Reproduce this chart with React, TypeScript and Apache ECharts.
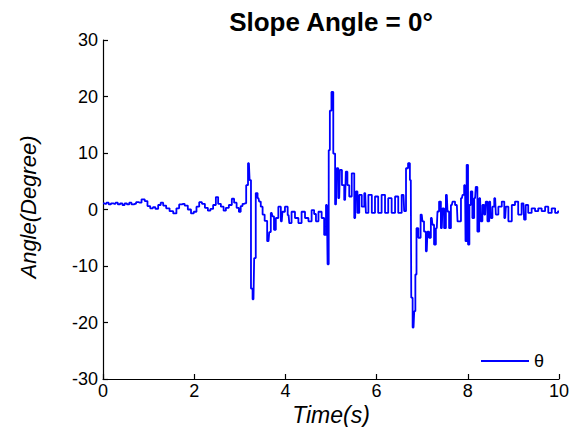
import React, { useEffect, useRef } from "react";
import * as echarts from "echarts";

const titleText = "Slope Angle = 0°";
const seriesName = "θ";
const xTicks = [0, 2, 4, 6, 8, 10];
const yTicks = [-30, -20, -10, 0, 10, 20, 30];

const time = [
  0, 0.05, 0.1, 0.15, 0.2, 0.25, 0.3, 0.35, 0.4, 0.45, 0.5, 0.55, 0.6, 0.65, 0.7, 0.75, 0.81, 0.88, 0.95,
  1.0, 1.07, 1.12, 1.18, 1.24, 1.29, 1.35, 1.42, 1.5, 1.58, 1.64, 1.7, 1.76, 1.82, 1.9, 1.96, 2.02, 2.08,
  2.14, 2.2, 2.27, 2.33, 2.38, 2.45, 2.5, 2.55, 2.62, 2.67, 2.72, 2.8, 2.85, 2.9, 2.96, 3.0, 3.04, 3.08,
  3.12, 3.16, 3.2, 3.23, 3.26, 3.3, 3.33, 3.37, 3.41, 3.44, 3.48, 3.52, 3.57, 3.63, 3.66, 3.7, 3.73, 3.77,
  3.81, 3.88, 3.92, 3.95, 4.03, 4.07, 4.1, 4.17, 4.25, 4.32, 4.39, 4.47, 4.54, 4.61, 4.65, 4.69, 4.76,
  4.83, 4.87, 4.91, 4.94, 4.96, 4.99, 5.03, 5.07, 5.11, 5.14, 5.18, 5.21, 5.27, 5.31, 5.34, 5.38, 5.42,
  5.49, 5.53, 5.56, 5.6, 5.64, 5.71, 5.75, 5.78, 5.86, 5.93, 6.0, 6.07, 6.15, 6.22, 6.29, 6.37, 6.44,
  6.51, 6.59, 6.62, 6.67, 6.71, 6.75, 6.77, 6.81, 6.84, 6.86, 6.89, 6.94, 6.99, 7.02, 7.06, 7.1, 7.13,
  7.17, 7.21, 7.24, 7.28, 7.32, 7.35, 7.39, 7.43, 7.46, 7.5, 7.54, 7.57, 7.61, 7.65, 7.68, 7.76, 7.79,
  7.83, 7.87, 7.9, 7.94, 7.96, 7.99, 8.02, 8.05, 8.08, 8.12, 8.16, 8.19, 8.23, 8.27, 8.3, 8.34, 8.38,
  8.41, 8.45, 8.49, 8.52, 8.56, 8.6, 8.63, 8.71, 8.78, 8.82, 8.85, 8.93, 9.0, 9.07, 9.14, 9.22, 9.25,
  9.29, 9.36, 9.44, 9.51, 9.58, 9.66, 9.73, 9.8, 9.88, 9.95, 10.0,
];

const theta = [
  1.1, 1.0, 1.2, 0.9, 1.1, 1.0, 1.2, 0.9, 1.1, 0.8, 1.1, 0.9, 1.2, 0.9, 1.0, 1.3, 1.2, 1.8, 1.5,
  0.6, 0.2, 0.4, 0.1, 0.8, 1.2, 0.7, 0.2, -0.3, -0.7, 0.2, 0.9, 1.0, 0.7, 0.0, -0.7, -0.4, 0.5,
  1.3, 1.0, 0.3, -0.2, 0.1, 0.8, 2.2, 1.0, 0.5, -0.2, 0.3, 0.8, 1.9, 1.2, 0.3, -0.4, 0.6, 1.0,
  1.1, 4.3, 8.2, 5.2, -14.0, -15.9, -8.6, 2.9, 2.0, 1.4, 0.5, -0.9, -2.0, -5.6, -4.0, -0.6, -1.2, -3.6,
  -1.5, 0.5, -2.1, -0.4, 0.5, -1.0, -2.4, -0.4, -1.5, -2.4, -0.4, -1.5, -2.1, -0.1, -0.8, -2.1, -0.4,
  -1.5, -4.5, 0.8, -9.7, 10.5, 17.5, 20.8, 9.9, 0.9, 7.3, 2.0, 7.0, 4.3, 1.7, 6.7, 4.3, 2.3,
  6.4, -1.5, 3.2, -0.6, 2.6, 0.5, 2.9, -0.6, 2.6, -0.6, 2.3, -0.6, 2.6, -0.6, 2.0, -0.6, 2.3,
  -0.6, 2.6, -0.3, 7.3, 8.2, 5.2, -15.6, -20.9, -18.0, -11.5, -3.3, -5.0, -0.9, -2.1, -3.9, -7.4, -3.9,
  -5.0, -1.5, -2.7, -6.2, -3.3, -0.35, 1.4, -3.3, 0.2, -3.3, 2.6, -0.35, -3.3, 0.8, 1.4, 0.8, -2.1,
  -2.1, 2.0, 2.6, 4.3, -5.6, 7.9, -6.2, 0.8, 3.2, -1.5, 2.0, 4.0, -3.9, 2.0, -2.1, 0.8, -0.9,
  1.4, -2.1, 1.4, -1.5, 0.5, 2.0, -0.9, 0.5, 1.4, -1.5, 0.5, -2.1, 0.8, 1.4, -0.9, 1.1, -1.8,
  0.8, -0.6, 0.2, -0.3, 0.2, -0.3, 0.5, -0.6, 0.2, -0.6, -0.35,
];

const FONT = "Liberation Sans";

export default function App() {
  const ref = useRef<HTMLDivElement>(null);
  useEffect(() => {
    document.body.style.margin = "0";
    const chart = echarts.init(ref.current!, null, { renderer: "svg" });
    const gridLeft = 103;
    const gridTop = 40;
    const gridRight = 22;
    const gridBottom = 48;
    const plotCx = gridLeft + (581 - gridLeft - gridRight) / 2;
    chart.setOption({
      animation: false,
      backgroundColor: "#ffffff",
      grid: { left: gridLeft, right: gridRight, top: gridTop, bottom: gridBottom, containLabel: false },
      xAxis: {
        type: "value",
        min: xTicks[0],
        max: xTicks[xTicks.length - 1],
        interval: 2,
        axisLine: { show: true, onZero: false, lineStyle: { color: "#000", width: 1.2 } },
        axisTick: { show: true, inside: true, length: 5, lineStyle: { color: "#000", width: 1.2 } },
        axisLabel: { color: "#000", fontFamily: FONT, fontSize: 18, margin: 4, lineHeight: 16 },
        splitLine: { show: false },
      },
      yAxis: {
        type: "value",
        min: yTicks[0],
        max: yTicks[yTicks.length - 1],
        interval: 10,
        axisLine: { show: true, onZero: false, lineStyle: { color: "#000", width: 1.2 } },
        axisTick: { show: true, inside: true, length: 5, lineStyle: { color: "#000", width: 1.2 } },
        axisLabel: { color: "#000", fontFamily: FONT, fontSize: 18, margin: 5 },
        splitLine: { show: false },
      },
      legend: {
        data: [seriesName],
        left: 476,
        top: 347,
        icon: "rect",
        itemWidth: 48,
        itemHeight: 2,
        itemGap: 4,
        textStyle: { color: "#000", fontFamily: FONT, fontSize: 18, padding: [0, 0, 0, 0] },
      },
      graphic: [
        {
          type: "text",
          x: plotCx,
          y: 22,
          style: {
            text: titleText,
            fill: "#000",
            font: `bold 26px "${FONT}"`,
            textAlign: "center",
            textVerticalAlign: "middle",
          },
        },
        {
          type: "text",
          x: plotCx,
          y: 415,
          style: {
            text: "Time(s)",
            fill: "#000",
            font: `italic 23px "${FONT}"`,
            textAlign: "center",
            textVerticalAlign: "middle",
          },
        },
        {
          type: "text",
          x: 28,
          y: 207,
          rotation: Math.PI / 2,
          style: {
            text: "Angle(Degree)",
            fill: "#000",
            font: `italic 22px "${FONT}"`,
            textAlign: "center",
            textVerticalAlign: "middle",
          },
        },
      ],
      series: [
        {
          name: seriesName,
          type: "line",
          step: "middle",
          showSymbol: false,
          symbol: "none",
          data: time.map((t, i) => [t, theta[i]]),
          lineStyle: { color: "#0000ff", width: 1.8 },
          itemStyle: { color: "#0000ff" },
        },
      ],
    });
    return () => chart.dispose();
  }, []);
  return <div ref={ref} style={{ position: "fixed", left: 0, top: 0, width: 581, height: 427 }} />;
}
